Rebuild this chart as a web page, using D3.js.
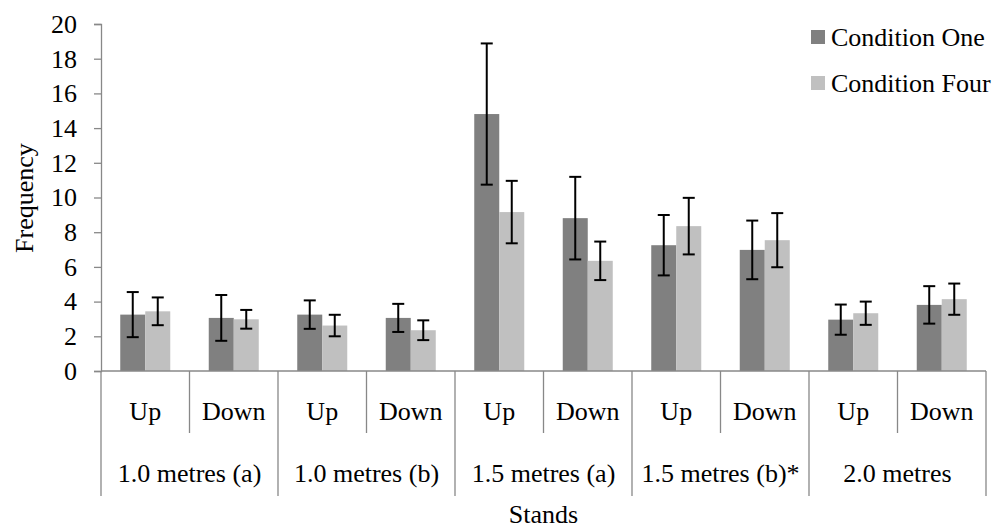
<!DOCTYPE html>
<meta charset="utf-8">
<script src="https://d3js.org/d3.v7.min.js"></script>
<style>
    body { margin: 0; background: #fff; }
    svg text { font-family: "Times New Roman", "Liberation Serif", "DejaVu Serif", serif; fill: #000; }
</style>
<body>
<svg id="chart" width="997" height="529"></svg>
<script>

    // data
    var groups = ["1.0 metres (a)", "1.0 metres (b)", "1.5 metres (a)", "1.5 metres (b)*", "2.0 metres"];
    var directions = ["Up", "Down"];
    var series = ["Condition One", "Condition Four"];
    var condOne = [3.25, 3.06, 3.25, 3.06, 14.81, 8.81, 7.25, 6.98, 2.96, 3.81];
    var condOneErr = [1.30, 1.32, 0.82, 0.81, 4.07, 2.38, 1.74, 1.69, 0.87, 1.08];
    var condFour = [3.44, 2.98, 2.62, 2.35, 9.16, 6.35, 8.35, 7.54, 3.33, 4.14];
    var condFourErr = [0.80, 0.54, 0.62, 0.57, 1.80, 1.11, 1.63, 1.56, 0.67, 0.90];
    var yTicks = [0, 2, 4, 6, 8, 10, 12, 14, 16, 18, 20];

    var colors = ["#808080", "#c0c0c0"];
    var axisColor = "#888888";
    var serif = '"Times New Roman", "Liberation Serif", "DejaVu Serif", serif';

    var plotLeft = 101, plotRight = 986, plotTop = 24, plotBottom = 371;

    var svg = d3.select("#chart")
        .attr("font-family", serif);

    // one slot per group/direction pair
    var slots = [];
    groups.forEach(function (g, gi) {
        directions.forEach(function (d) {
            slots.push({ group: g, gi: gi, dir: d, key: gi + "-" + d, i: slots.length });
        });
    });

    var x = d3.scaleBand()
        .domain(slots.map(function (s) { return s.key; }))
        .range([plotLeft, plotRight])
        .padding(0);

    var xInner = d3.scaleBand()
        .domain(series)
        .range([0, x.bandwidth()])
        .paddingInner(0)
        .paddingOuter(0.77);

    var y = d3.scaleLinear()
        .domain([0, 20])
        .range([plotBottom, plotTop]);

    // y axis
    var yAxis = svg.append("g")
        .attr("transform", "translate(" + plotLeft + ",0)")
        .call(d3.axisLeft(y).tickValues(yTicks).tickSize(7).tickPadding(17));
    yAxis.attr("font-family", serif);
    yAxis.select(".domain").attr("stroke", axisColor).attr("stroke-width", 1.3);
    yAxis.selectAll(".tick line").attr("stroke", axisColor).attr("stroke-width", 1.3);
    yAxis.selectAll(".tick text")
        .style("font-family", serif)
        .style("font-size", "26px")
        .attr("fill", "#000");

    // bars
    var barData = [];
    slots.forEach(function (s) {
        barData.push({ slot: s, name: series[0], v: condOne[s.i], e: condOneErr[s.i], c: colors[0] });
        barData.push({ slot: s, name: series[1], v: condFour[s.i], e: condFourErr[s.i], c: colors[1] });
    });

    svg.append("g")
        .selectAll("rect")
        .data(barData)
        .enter().append("rect")
        .attr("x", function (d) { return x(d.slot.key) + xInner(d.name); })
        .attr("width", xInner.bandwidth())
        .attr("y", function (d) { return y(d.v); })
        .attr("height", function (d) { return y(0) - y(d.v); })
        .attr("fill", function (d) { return d.c; });

    // error bars
    function cx(d) { return x(d.slot.key) + xInner(d.name) + xInner.bandwidth() / 2; }
    var err = svg.append("g")
        .selectAll("g")
        .data(barData)
        .enter().append("g")
        .attr("stroke", "#000")
        .attr("stroke-width", 2);
    err.append("line")
        .attr("x1", cx)
        .attr("x2", cx)
        .attr("y1", function (d) { return y(d.v + d.e); })
        .attr("y2", function (d) { return y(d.v - d.e); });
    [1, -1].forEach(function (sign) {
        err.append("line")
            .attr("x1", function (d) { return cx(d) - 6; })
            .attr("x2", function (d) { return cx(d) + 6; })
            .attr("y1", function (d) { return y(d.v + sign * d.e); })
            .attr("y2", function (d) { return y(d.v + sign * d.e); });
    });

    // x axis line
    svg.append("line")
        .attr("x1", plotLeft).attr("x2", plotRight)
        .attr("y1", y(0)).attr("y2", y(0))
        .attr("stroke", axisColor).attr("stroke-width", 1.3);

    // separators: short ones between directions, long ones between groups
    var sepX = slots.map(function (s) { return x(s.key); }).concat([plotRight]);
    svg.append("g")
        .selectAll("line")
        .data(sepX)
        .enter().append("line")
        .attr("x1", function (d) { return d; })
        .attr("x2", function (d) { return d; })
        .attr("y1", y(0))
        .attr("y2", function (d, i) { return i % 2 === 0 ? 496 : 433; })
        .attr("stroke", axisColor).attr("stroke-width", 1.3);

    // direction labels
    svg.append("g")
        .selectAll("text")
        .data(slots)
        .enter().append("text")
        .attr("x", function (d) { return x(d.key) + x.bandwidth() / 2; })
        .attr("y", 420)
        .attr("text-anchor", "middle")
        .style("font-size", "26px")
        .text(function (d) { return d.dir; });

    // group labels
    svg.append("g")
        .selectAll("text")
        .data(groups)
        .enter().append("text")
        .attr("x", function (d, i) { return x(i + "-Up") + x.bandwidth(); })
        .attr("y", 482)
        .attr("text-anchor", "middle")
        .style("font-size", "26px")
        .text(function (d) { return d; });

    // axis titles
    svg.append("text")
        .attr("x", (plotLeft + plotRight) / 2)
        .attr("y", 523)
        .attr("text-anchor", "middle")
        .style("font-size", "26px")
        .text("Stands");

    svg.append("text")
        .attr("transform", "translate(33,198) rotate(-90)")
        .attr("text-anchor", "middle")
        .style("font-size", "26px")
        .text("Frequency");

    // legend
    var legend = svg.append("g")
        .selectAll("g")
        .data(series)
        .enter().append("g")
        .attr("transform", function (d, i) { return "translate(811," + (30 + i * 46) + ")"; });
    legend.append("rect")
        .attr("width", 14).attr("height", 14)
        .attr("fill", function (d, i) { return colors[i]; });
    legend.append("text")
        .attr("x", 20)
        .attr("y", 16)
        .style("font-size", "26px")
        .text(function (d) { return d; });

</script>
</body>
